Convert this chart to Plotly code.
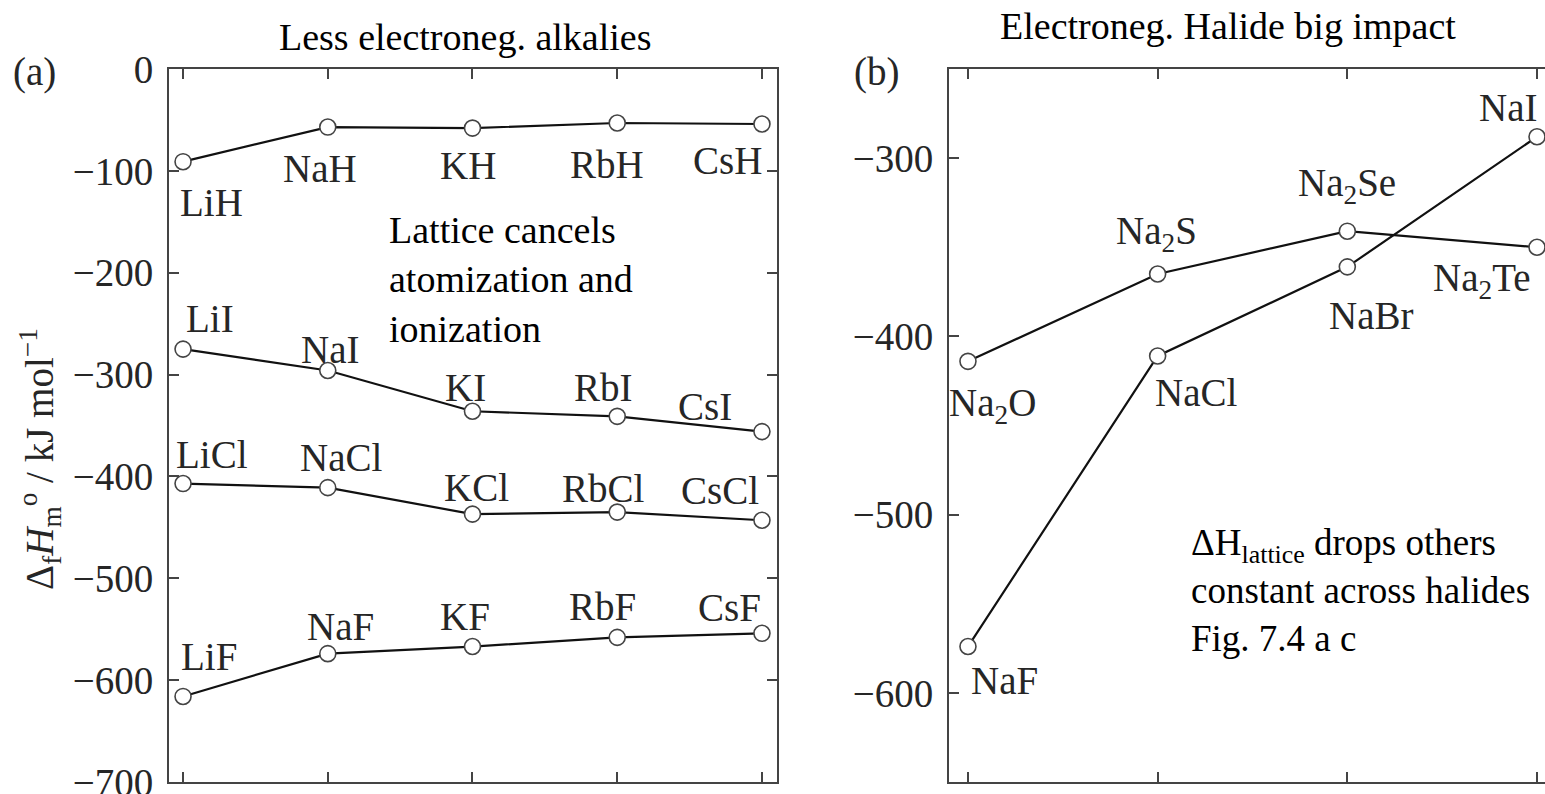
import plotly.graph_objects as go

# ---- data: standard enthalpies of formation, kJ/mol ----
alkalis = ["Li", "Na", "K", "Rb", "Cs"]
hydride_vals = [-91, -57, -58, -53, -54]
iodide_vals = [-275, -296, -336, -341, -356]
chloride_vals = [-407, -411, -437, -435, -443]
fluoride_vals = [-616, -574, -567, -558, -554]

chalcogenide_names = ["Na<sub>2</sub>O", "Na<sub>2</sub>S", "Na<sub>2</sub>Se", "Na<sub>2</sub>Te"]
chalcogenide_vals = [-414, -365, -341, -350]
sodium_halide_names = ["NaF", "NaCl", "NaBr", "NaI"]
sodium_halide_vals = [-574, -411, -361, -288]

left_ticks = [0, -100, -200, -300, -400, -500, -600, -700]
right_ticks = [-300, -400, -500, -600]

# ---- label offsets in pixels (dx, dy downward) ----
hydride_off = [(28, 41), (-8, 41), (-4, 37), (-10, 42), (-34, 36)]
iodide_off = [(27, -31), (2, -21), (-7, -24), (-14, -29), (-57, -25)]
chloride_off = [(29, -29), (13, -30), (4, -27), (-14, -24), (-42, -30)]
fluoride_off = [(26, -40), (13, -27), (-7, -30), (-15, -31), (-32, -26)]
chalc_off = [(25, 44), (-1, -40), (0, -46), (-55, 33)]
nahal_off = [(37, 34), (38, 37), (24, 49), (-29, -29)]

SERIF = "Liberation Serif, Times New Roman, serif"
LINE = dict(color="#111111", width=2.2)
MARK = dict(symbol="circle", size=16, color="white", line=dict(color="#444444", width=1.6))
LABEL_FONT = dict(family=SERIF, size=39, color="#262626")
TEXT_FONT = dict(family=SERIF, size=38, color="#000000")

fig = go.Figure()
annotations = []


def add_series(xs, ys, names, offsets, xa, ya):
    fig.add_trace(go.Scatter(
        x=xs, y=ys, mode="lines+markers", line=LINE, marker=MARK,
        xaxis=xa, yaxis=ya, showlegend=False, hoverinfo="skip"))
    for x, y, name, (dx, dy) in zip(xs, ys, names, offsets):
        annotations.append(dict(
            x=x, y=y, xref=xa, yref=ya, text=name, showarrow=False,
            xshift=dx, yshift=-dy, xanchor="center", yanchor="middle",
            font=LABEL_FONT))


xs_left = list(range(len(alkalis)))
add_series(xs_left, hydride_vals, [a + "H" for a in alkalis], hydride_off, "x", "y")
add_series(xs_left, iodide_vals, [a + "I" for a in alkalis], iodide_off, "x", "y")
add_series(xs_left, chloride_vals, [a + "Cl" for a in alkalis], chloride_off, "x", "y")
add_series(xs_left, fluoride_vals, [a + "F" for a in alkalis], fluoride_off, "x", "y")

xs_right = list(range(len(chalcogenide_vals)))
add_series(xs_right, chalcogenide_vals, chalcogenide_names, chalc_off, "x2", "y2")
add_series(xs_right, sodium_halide_vals, sodium_halide_names, nahal_off, "x2", "y2")

annotations += [
    dict(x=0.2151, y=1.0449, xref="paper", yref="paper", text="Less electroneg. alkalies",
         showarrow=False, xanchor="center", yanchor="middle", font=TEXT_FONT),
    dict(x=0.7693, y=1.0603, xref="paper", yref="paper", text="Electroneg. Halide big impact",
         showarrow=False, xanchor="center", yanchor="middle", font=TEXT_FONT),
    dict(x=-0.0974, y=0.9958, xref="paper", yref="paper", text="(a)",
         showarrow=False, xanchor="center", yanchor="middle", font=LABEL_FONT),
    dict(x=0.5145, y=0.9958, xref="paper", yref="paper", text="(b)",
         showarrow=False, xanchor="center", yanchor="middle", font=LABEL_FONT),
    dict(x=0.1584, y=0.8070, xref="paper", yref="paper",
         text="Lattice cancels<br>atomization and<br>ionization",
         showarrow=False, xanchor="left", yanchor="top", align="left", font=TEXT_FONT),
    dict(x=0.741, y=0.3680, xref="paper", yref="paper",
         text="ΔH<sub>lattice</sub> drops others<br>constant across halides<br>Fig. 7.4 a c",
         showarrow=False, xanchor="left", yanchor="top", align="left",
         font=dict(family=SERIF, size=37, color="#000000")),
    dict(x=-0.0938, y=0.453, xref="paper", yref="paper", textangle=-90,
         text="Δ<sub>f</sub><i>H</i><sub>m</sub><sup>o</sup> / kJ mol<sup>−1</sup>",
         showarrow=False, xanchor="center", yanchor="middle", font=LABEL_FONT),
]

axis_common = dict(
    showline=True, linecolor="#444444", linewidth=2,
    ticks="inside", ticklen=10, tickwidth=2, tickcolor="#444444",
    showgrid=False, zeroline=False, automargin=False,
    tickfont=LABEL_FONT,
)

fig.update_layout(
    width=1545, height=794,
    margin=dict(l=169, r=0, t=69, b=12, autoexpand=False),
    paper_bgcolor="white", plot_bgcolor="white",
    xaxis=dict(domain=[0, 0.44186], range=[-0.097, 4.104], tickvals=xs_left,
               showticklabels=False, mirror="ticks", anchor="y", **axis_common),
    yaxis=dict(domain=[0, 1], range=[-700, 0], tickvals=left_ticks, mirror="ticks",
               anchor="x", ticklabelstandoff=6, ticklabeloverflow="allow", **axis_common),
    xaxis2=dict(domain=[0.56686, 1], range=[-0.1, 3.0422], tickvals=xs_right,
                showticklabels=False, mirror="ticks", anchor="y2", **axis_common),
    yaxis2=dict(domain=[0, 1], range=[-650, -250], tickvals=right_ticks, mirror=False,
                anchor="x2", ticklabelstandoff=6, ticklabeloverflow="allow", **axis_common),
    annotations=annotations,
)

fig.write_html("out.html")
